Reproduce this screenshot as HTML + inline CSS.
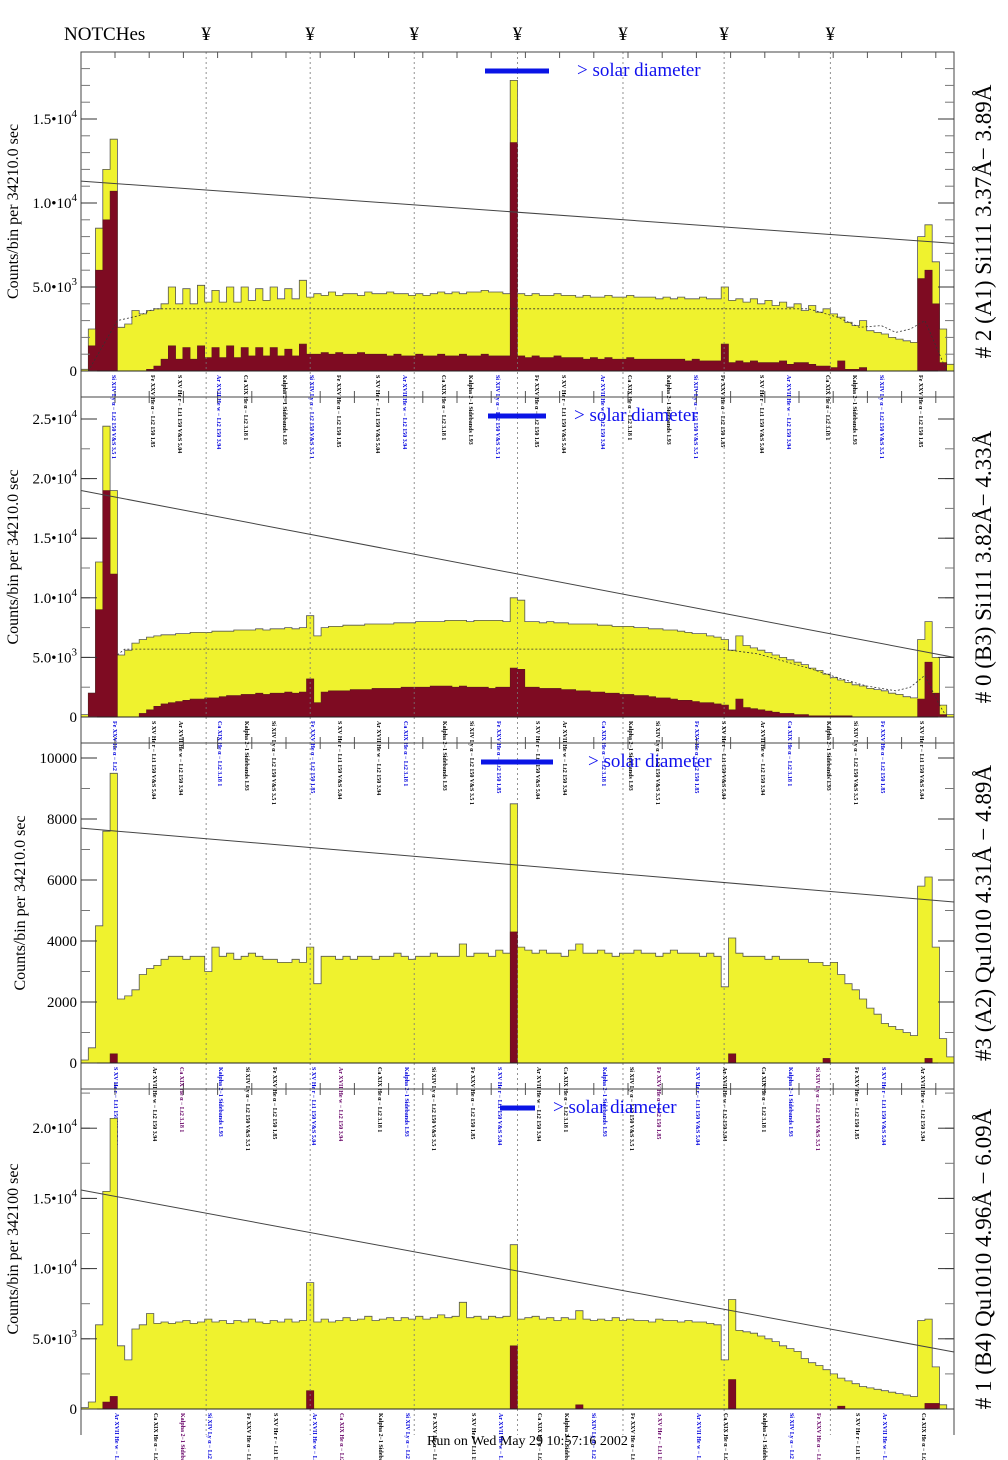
<!DOCTYPE html>
<html><head><meta charset="utf-8">
<style>
html,body{margin:0;padding:0;background:#fff;}
svg{display:block;font-family:"Liberation Serif",serif;}
</style></head>
<body>
<svg id="chart" width="1008" height="1460" viewBox="0 0 1008 1460" xmlns="http://www.w3.org/2000/svg">
<text x="64" y="40" font-size="19">NOTCHes</text>
<text x="427" y="1445" font-size="14">Run on Wed May 29 10:57:16 2002</text>
</svg>
<script>
const NBINS = 120;
const notchBins = [17.2, 31.5, 45.8, 60.0, 74.5, 88.4, 103.0];

const yellow1 = [0.1,2.5,8.5,12,13.8,2.6,2.8,3.6,3.4,3.6,3.7,
4.0,5.0,4.0,4.9,4.0,5.1,4.1,4.8,4.1,5.0,
4.1,5.0,4.2,4.9,4.2,5.0,4.3,4.9,4.3,5.4,
4.4,4.6,4.5,4.7,4.5,4.6,4.6,4.5,4.7,4.6,
4.6,4.7,4.6,4.6,4.5,4.6,4.5,4.6,4.7,4.6,
4.7,4.6,4.7,4.7,4.8,4.7,4.7,4.6,
17.3,
4.6,4.5,4.6,4.5,4.5,4.6,4.5,4.5,4.4,4.5,4.4,
4.4,4.5,4.4,4.4,4.5,4.4,4.4,4.4,4.3,4.4,
4.3,4.4,4.3,4.3,4.4,4.3,4.3,5.0,4.2,4.3,
4.1,4.3,4.0,4.2,3.9,4.1,3.8,4.0,3.6,3.9,
3.5,3.7,3.4,3.2,2.9,2.7,3.0,2.4,2.3,2.2,
2.0,1.9,1.8,1.7,
8.0,8.7,6.5,2.5,0.4];
const red1 = [0,1.5,6,9,10.7,0,0,0,0,0.1,0.3,
0.7,1.5,0.7,1.4,0.7,1.5,0.8,1.4,0.8,1.5,
0.8,1.4,0.9,1.4,0.9,1.4,0.9,1.3,0.9,1.6,
1.0,1.0,1.1,1.0,1.1,1.0,1.0,1.1,1.0,1.0,
1.0,0.9,1.0,0.9,0.9,1.0,0.9,0.9,1.0,0.9,
0.9,1.0,0.9,0.9,1.0,0.9,0.9,0.9,
13.6,
0.9,0.8,0.9,0.8,0.8,0.9,0.8,0.8,0.8,0.7,0.8,
0.7,0.8,0.7,0.7,0.8,0.7,0.7,0.7,0.7,0.7,
0.7,0.7,0.6,0.7,0.6,0.6,0.6,1.6,0.5,0.6,
0.5,0.6,0.5,0.5,0.5,0.6,0.4,0.5,0.5,0.4,
0.3,0.3,0.2,0.6,0.1,0.1,0.2,0,0,0,
0,0,0,0,
5.5,6.0,4.0,0.5,0];
const model1Bins = [1,5,8,10,100,104,107,110,112,114,116,118,119];
const model1Vals = [0,3.0,3.3,3.7,3.7,3.2,2.6,2.7,2.3,2.5,3.0,1.0,0];
const trend1 = [11.3, 7.6];

const yellow2 = [0.2,2.0,13,24.4,19,5.2,5.6,6.2,6.5,6.7,6.8,
6.9,6.9,7.0,7.0,7.1,7.1,7.1,7.2,7.2,7.2,
7.3,7.3,7.3,7.4,7.3,7.4,7.4,7.5,7.4,7.5,
8.5,6.8,7.5,7.6,7.6,7.7,7.7,7.7,7.8,7.8,
7.8,7.8,7.9,7.9,7.9,8.0,8.0,8.0,8.0,8.1,
8.1,8.1,8.0,8.1,8.1,8.1,8.1,8.0,
10.0,
9.8,8.0,8.0,7.9,8.0,7.9,7.9,7.8,7.8,7.8,7.8,
7.7,7.7,7.6,7.6,7.6,7.5,7.5,7.4,7.4,7.3,
7.3,7.2,7.1,7.0,7.0,6.8,6.7,6.5,5.6,6.8,
6.0,5.8,5.6,5.4,5.2,5.0,4.8,4.6,4.4,4.1,
3.9,3.6,3.3,3.1,2.9,2.7,2.6,2.4,2.3,2.2,
2.0,1.9,1.7,1.6,
6.5,8.0,5.0,1.0,0.2];
const red2 = [0,2,9,19,12,0,0,0,0.3,0.6,0.9,
1.1,1.2,1.3,1.4,1.5,1.5,1.6,1.6,1.7,1.8,
1.8,1.9,1.9,2.0,1.9,2.0,2.0,2.1,2.0,2.1,
3.2,1.2,2.1,2.2,2.2,2.2,2.3,2.3,2.3,2.4,
2.4,2.4,2.4,2.5,2.5,2.5,2.5,2.6,2.6,2.6,
2.5,2.6,2.5,2.5,2.5,2.4,2.5,2.5,
4.1,
4.0,2.5,2.5,2.4,2.4,2.4,2.3,2.3,2.2,2.2,2.1,
2.1,2.0,2.0,1.9,1.9,1.8,1.8,1.7,1.6,1.6,
1.5,1.4,1.4,1.3,1.2,1.2,1.1,1.0,0.6,1.5,
0.8,0.7,0.6,0.5,0.4,0.3,0.3,0.2,0.2,0.1,
0.1,0.1,0.1,0.1,0.1,0,0,0,0,0,
0,0,0,0,
1.5,4.6,2.0,0.2,0];
const model2Bins = [5,6,88,93,100,104,108,112,114,116,118,119];
const model2Vals = [5.2,5.7,5.7,5.3,4.1,3.3,2.6,2.2,2.5,3.5,1.0,0];
const trend2 = [19.0, 5.0];

const yellow3 = [0.1,0.5,4.5,7.6,9.5,2.1,2.2,2.4,2.9,3.1,3.2,
3.4,3.5,3.5,3.4,3.5,3.5,3.0,3.8,3.5,3.6,
3.4,3.5,3.6,3.5,3.4,3.4,3.3,3.3,3.4,3.3,
3.8,2.6,3.5,3.5,3.4,3.5,3.4,3.5,3.5,3.4,
3.5,3.5,3.6,3.5,3.4,3.5,3.5,3.6,3.5,3.5,
3.5,3.9,3.5,3.6,3.6,3.5,3.7,3.6,
8.5,
3.8,3.7,3.6,3.7,3.6,3.6,3.5,3.7,3.9,3.6,3.6,
3.7,3.6,3.5,3.6,3.6,3.7,3.6,3.6,3.5,3.6,
3.7,3.6,3.6,3.6,3.5,3.6,3.5,2.5,4.1,3.6,
3.5,3.5,3.5,3.4,3.5,3.4,3.4,3.4,3.4,3.3,
3.3,3.2,3.3,2.9,2.6,2.4,2.1,1.8,1.6,1.3,
1.2,1.1,1.0,0.9,
5.8,6.1,3.8,0.8,0.2];
const red3 = [0,0,0,0,0.3,0,0,0,0,0,0,
0,0,0,0,0,0,0,0,0,0,
0,0,0,0,0,0,0,0,0,0,
0,0,0,0,0,0,0,0,0,0,
0,0,0,0,0,0,0,0,0,0,
0,0,0,0,0,0,0,0,
4.3,
0,0,0,0,0,0,0,0,0,0,0,
0,0,0,0,0,0,0,0,0,0,
0,0,0,0,0,0,0,0,0.3,0,
0,0,0,0,0,0,0,0,0,0,
0,0.15,0,0,0,0,0,0,0,0,
0,0,0,0,
0,0.15,0,0,0];
const trend3 = [7.7, 5.28];

const yellow4 = [0.1,0.5,6,15.5,20.7,4.5,3.5,5.7,6.0,6.8,6.1,
6.2,6.1,6.2,6.3,6.1,6.2,6.4,6.2,6.3,6.1,
6.3,6.2,6.4,6.2,6.1,6.3,6.2,6.4,6.2,6.3,
9.0,6.2,6.4,6.2,6.3,6.5,6.3,6.4,6.6,6.3,
6.4,6.5,6.3,6.5,6.4,6.6,6.4,6.5,6.7,6.5,
6.6,7.6,6.5,6.6,6.4,6.6,6.5,6.6,
11.7,
6.4,6.5,6.6,6.4,6.5,6.3,6.5,6.4,7.0,6.4,6.3,
6.4,6.3,6.5,6.3,6.4,6.3,6.3,6.2,6.4,6.3,
6.3,6.2,6.3,6.2,6.2,6.1,6.0,3.5,7.8,5.6,
5.5,5.4,5.2,5.0,4.8,4.5,4.3,4.1,3.6,3.3,
3.1,2.8,2.5,2.2,2.0,1.8,1.6,1.5,1.4,1.3,
1.2,1.1,1.0,0.9,
6.3,6.4,3.0,0.3,0];
const red4 = [0,0,0,0.5,0.9,0,0,0,0,0,0,
0,0,0,0,0,0,0,0,0,0,
0,0,0,0,0,0,0,0,0,0,
1.3,0,0,0,0,0,0,0,0,0,
0,0,0,0,0,0,0,0,0,0,
0,0,0,0,0,0,0,0,
4.5,
0,0,0,0,0,0,0,0,0.3,0,0,
0,0,0,0,0,0,0,0,0,0,
0,0,0,0,0,0,0,0,2.1,0,
0,0,0,0,0,0,0,0,0,0,
0,0,0,0.2,0,0,0,0,0,0,
0,0,0,0,
0,0.4,0.4,0,0];
const trend4 = [15.6, 4.06];

const tickVals1 = [0,5,10,15];
const tickVals2 = [0,5,10,15,20,25];
const tickVals3 = [0,2,4,6,8,10];
const tickVals4 = [0,5,10,15,20];

const NS = "http://www.w3.org/2000/svg";
const svg = document.getElementById("chart");
const XL = 81, XR = 954;
function xScale(b){ return XL + b*(XR-XL)/NBINS; }
function mk(tag, attrs, parent){
  const e = document.createElementNS(NS, tag);
  for (const k in attrs) e.setAttribute(k, attrs[k]);
  (parent||svg).appendChild(e);
  return e;
}

const panels = [
 {top:52, bot:397, base:371, per:16.8, yel:yellow1, red:red1, mb:model1Bins, mv:model1Vals, trend:trend1, ticks:tickVals1, sci:true,
  ytitle:"Counts/bin per  34210.0 sec", rtitle:"# 2 (A1) Si111  3.37Å− 3.89Å", bar:[485,549], stx:577, minor:1},
 {top:397, bot:743, base:717, per:11.92, yel:yellow2, red:red2, mb:model2Bins, mv:model2Vals, trend:trend2, ticks:tickVals2, sci:true,
  ytitle:"Counts/bin per  34210.0 sec", rtitle:"# 0 (B3) Si111  3.82Å− 4.33Å", bar:[488,546], stx:574, minor:2.5},
 {top:743, bot:1089, base:1063, per:30.5, yel:yellow3, red:red3, mb:null, mv:null, trend:trend3, ticks:tickVals3, sci:false,
  ytitle:"Counts/bin per  34210.0 sec", rtitle:"#3 (A2) Qu1010  4.31Å − 4.89Å", bar:[481,553], stx:588, minor:1},
 {top:1089, bot:1435, base:1409, per:14.04, yel:yellow4, red:red4, mb:null, mv:null, trend:trend4, ticks:tickVals4, sci:true,
  ytitle:"Counts/bin per  342100 sec", rtitle:"# 1 (B4) Qu1010 4.96Å − 6.09Å", bar:[500,535], stx:553, minor:2.5}
];

function stepPath(vals, yS, base){
  let d = "M" + xScale(0) + " " + base;
  for (let i=0;i<vals.length;i++){
    const y = yS(vals[i]);
    d += " L" + xScale(i).toFixed(1) + " " + y.toFixed(1) + " L" + xScale(i+1).toFixed(1) + " " + y.toFixed(1);
  }
  d += " L" + xScale(vals.length) + " " + base + " Z";
  return d;
}

notchBins.forEach((b,i)=>{
  const t = mk("text",{x:xScale(b),y:40,"font-size":19,"text-anchor":"middle"});
  t.textContent = "¥";
  
  
});

const labelTexts = ["Si XIV Ly α − Lt2 150 V&S 3.5 1","Fe XXV He α − Lt2 150 1.85","S XV He r − Lt1 150 V&S 5.04","Ar XVII He w − Lt2 150 3.94","Ca XIX He α − Lt2 3.18 1","Kalpha 2−1 Sidebands 1.93"];

panels.forEach((p,pi)=>{
  const g = mk("g",{});
  
  
  const yS = v => p.base - v*p.per;
  const H = p.bot - p.top;
  const cp = mk("clipPath",{id:"cp"+pi}, g);
  mk("rect",{x:XL,y:p.top,width:XR-XL,height:p.base-p.top+1}, cp);
  const yh = mk("path",{d:stepPath(p.yel,yS,p.base),fill:"#eff22e",stroke:"#555",
    "stroke-width":0.8,"clip-path":"url(#cp"+pi+")"}, g);
  
  
  const rh = mk("path",{d:stepPath(p.red,yS,p.base),fill:"#7e0b22",stroke:"#5a1a1a",
    "stroke-width":0.6,"clip-path":"url(#cp"+pi+")"}, g);
  
  
  if (p.mb){
    let pts = p.mb.map((b,i)=> xScale(b).toFixed(1)+","+yS(p.mv[i]).toFixed(1)).join(" ");
    const ml = mk("polyline",{points:pts,fill:"none",stroke:"#333","stroke-width":0.8,"stroke-dasharray":"2,2"}, g);
    
    
  }
  notchBins.forEach(b=>{
    const l = mk("line",{x1:xScale(b),x2:xScale(b),y1:p.top,y2:p.bot,stroke:"#777","stroke-width":0.8,"stroke-dasharray":"2,3"}, g);
    
    
  });
  const tl = mk("line",{x1:XL,y1:yS(p.trend[0]),x2:XR,y2:yS(p.trend[1]),stroke:"#444","stroke-width":1}, g);
  
  
  const fr = mk("path",{d:"M"+XL+" "+p.bot+" L"+XL+" "+p.top+" L"+XR+" "+p.top+" L"+XR+" "+p.bot+(pi<3?" Z":""),fill:"none",stroke:"#444","stroke-width":1}, g);
  
  
  mk("line",{x1:XL,x2:XR,y1:p.base,y2:p.base,stroke:"#222","stroke-width":1}, g);
  for (let x=XL+34; x<XR; x+=34.2){
    mk("line",{x1:x,x2:x,y1:p.top,y2:p.top+6,stroke:"#555","stroke-width":1}, g);
    if (pi<3) mk("line",{x1:x,x2:x,y1:p.bot,y2:p.bot-6,stroke:"#555","stroke-width":1}, g);
  }
  const ymax = (p.base-p.top)/p.per;
  for (let v=0; v<=ymax; v+=p.minor){
    const y = yS(v);
    mk("line",{x1:XL,x2:XL+9,y1:y,y2:y,stroke:"#777","stroke-width":1}, g);
    mk("line",{x1:XR,x2:XR-9,y1:y,y2:y,stroke:"#777","stroke-width":1}, g);
  }
  p.ticks.forEach(v=>{
    const y = yS(v);
    mk("line",{x1:XL,x2:XL+16,y1:y,y2:y,stroke:"#333","stroke-width":1}, g);
    mk("line",{x1:XR,x2:XR-16,y1:y,y2:y,stroke:"#333","stroke-width":1}, g);
    const t = mk("text",{x:77,y:y+5,"font-size":15,"text-anchor":"end"}, g);
    
    
    if (v===0) t.textContent = "0";
    else if (p.sci){
      const ex = v>=10 ? 4 : 3;
      const m = v>=10 ? (v/10).toFixed(1) : v.toFixed(1);
      t.appendChild(document.createTextNode(m + "•10"));
      const s = mk("tspan",{dy:-7,"font-size":11}, t);
      s.textContent = ex;
    } else t.textContent = String(v*1000);
  });
  for (let k=0;k<26;k++){
    const x = 112 + k*32 + ((pi*13+k*7)%12);
    const t = mk("text",{x:0,y:0,"font-size":6,"font-weight":"bold",fill:(k%3===0)?"#0000dd":((k%5===2&&pi>1)?"#660066":"#000"),
      transform:"translate("+x+","+(p.base+4)+") rotate(90)"}, g);
    t.textContent = labelTexts[(k+pi)%labelTexts.length];
    
    
  }
  const bar = mk("line",{x1:p.bar[0],x2:p.bar[1],y1:p.top+19,y2:p.top+19,stroke:"#0a14e6","stroke-width":5}, g);
  
  
  const st = mk("text",{x:p.stx,y:p.top+24,"font-size":19,fill:"#1010ee"}, g);
  st.textContent = "> solar diameter";
  
  
  const cy = (p.top+p.base)/2;
  const yt = mk("text",{x:0,y:0,"font-size":16,"text-anchor":"middle",transform:"translate("+(pi===2?25:18)+","+cy+") rotate(-90)"}, g);
  yt.textContent = p.ytitle;
  
  
  const rt = mk("text",{x:0,y:0,"font-size":23,"text-anchor":"middle",transform:"translate(991,"+(cy+10)+") rotate(-90)"}, g);
  rt.textContent = p.rtitle;
  
  
});
</script>
</body></html>
